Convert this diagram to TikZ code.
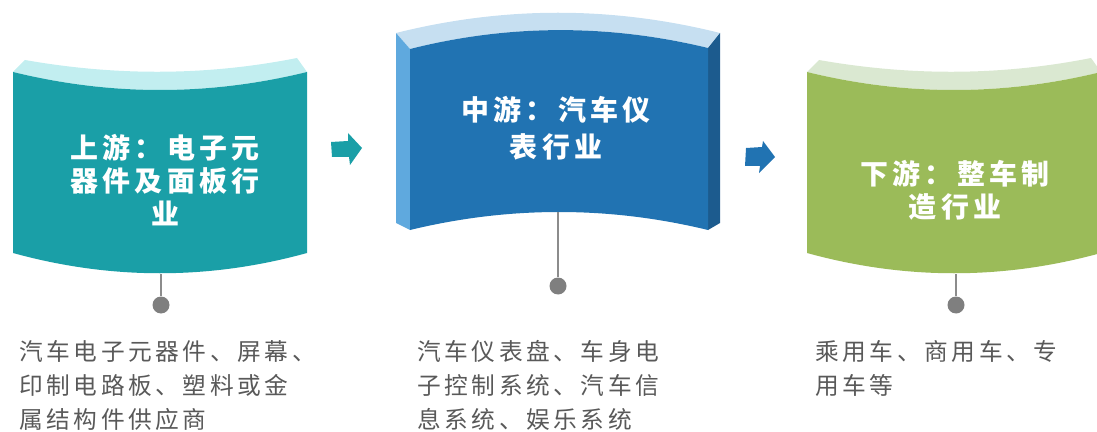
\documentclass[tikz,border=0pt]{standalone}
\usepackage{fontspec}
\newfontfamily\cjk[LetterSpace=15]{Noto Sans CJK SC}

\definecolor{tealf}{HTML}{1A9FA7}
\definecolor{tealt}{HTML}{C2EEF0}
\definecolor{bluef}{HTML}{2173B2}
\definecolor{bluet}{HTML}{C6DFF1}
\definecolor{bluel}{HTML}{5FA9DE}
\definecolor{bluer}{HTML}{1C5B8E}
\definecolor{greenf}{HTML}{9BBB59}
\definecolor{greent}{HTML}{DAE8D1}
\definecolor{stemc}{HTML}{8C8C8C}
\definecolor{dotc}{HTML}{7F7F7F}
\definecolor{descc}{HTML}{595959}

\begin{document}
\begin{tikzpicture}[x=0.02cm,y=-0.02cm,
  title/.style={text=white,align=center,font=\cjk\bfseries\fontsize{15.9}{19}\selectfont},
  desc/.style={text=descc,align=left,anchor=north west,inner sep=0pt,font=\cjk\fontsize{13.5}{19.3}\selectfont},
  dot/.style={circle,fill=dotc,inner sep=0pt,minimum size=0.34cm},
  stem/.style={stemc,line width=1.1pt}]
\useasboundingbox (0,0) rectangle (1097,432);
\clip (0,0) rectangle (1097,432);
\fill[tealt] (13,72) -- (25,60) .. controls (116,76) and (206,76) .. (297,58) -- (307,72) .. controls (209,96) and (111,96) .. (13,72) -- cycle;
\fill[tealf] (13,72) .. controls (111,96) and (209,96) .. (307,72) -- (307,253) .. controls (209,280) and (111,280) .. (13,253) -- cycle;
\begin{scope}[shift={(794,0)}]
\fill[greent] (13,72) -- (25,60) .. controls (116,76) and (206,76) .. (297,58) -- (307,72) .. controls (209,96) and (111,96) .. (13,72) -- cycle;
\fill[greenf] (13,72) .. controls (111,96) and (209,96) .. (307,72) -- (307,253) .. controls (209,280) and (111,280) .. (13,253) -- cycle;
\end{scope}
\fill[bluet] (396,33) .. controls (504,6) and (612,6) .. (720,33) -- (708,48) .. controls (609,24) and (509,24) .. (410,49) -- cycle;
\fill[bluel] (396,33) -- (410,49) -- (410,230) -- (396,223) -- cycle;
\fill[bluer] (720,33) -- (708,48) -- (708,230) -- (720,223) -- cycle;
\fill[bluef] (410,49) .. controls (509,24) and (609,24) .. (708,48) -- (708,230) .. controls (609,206) and (509,206) .. (410,230) -- cycle;
\fill[tealf] (331,142) -- (348,141) -- (348,133) -- (362,148) -- (350,165) -- (349,157) -- (332,157) -- cycle;
\fill[bluef] (746,148) -- (762,147) -- (763,141) -- (775,157) -- (759,173) -- (760,166) -- (745,166) -- cycle;

\node[title] (up) at (165,180) {上游：电子元\\器件及面板行\\业};
\node[title,font=\cjk\bfseries\fontsize{15.9}{21}\selectfont] (mid) at (556,128) {中游：汽车仪\\表行业};
\node[title] (down) at (955,190) {下游：整车制\\造行业};

\coordinate (upfoot) at (161,274);
\coordinate (midfoot) at (558,212);
\coordinate (downfoot) at (956,274);
\node[dot] (updot) at (161,305) {};
\node[dot] (middot) at (558,286) {};
\node[dot] (downdot) at (956,305) {};
\draw[stem] (upfoot) -- (updot);
\draw[stem] (midfoot) -- (middot);
\draw[stem] (downfoot) -- (downdot);

\node[desc] (uptext) at (19,340) {汽车电子元器件、屏幕、\\印制电路板、塑料或金\\属结构件供应商};
\node[desc] (midtext) at (417,340) {汽车仪表盘、车身电\\子控制系统、汽车信\\息系统、娱乐系统};
\node[desc] (downtext) at (815,340) {乘用车、商用车、专\\用车等};
\end{tikzpicture}
\end{document}
